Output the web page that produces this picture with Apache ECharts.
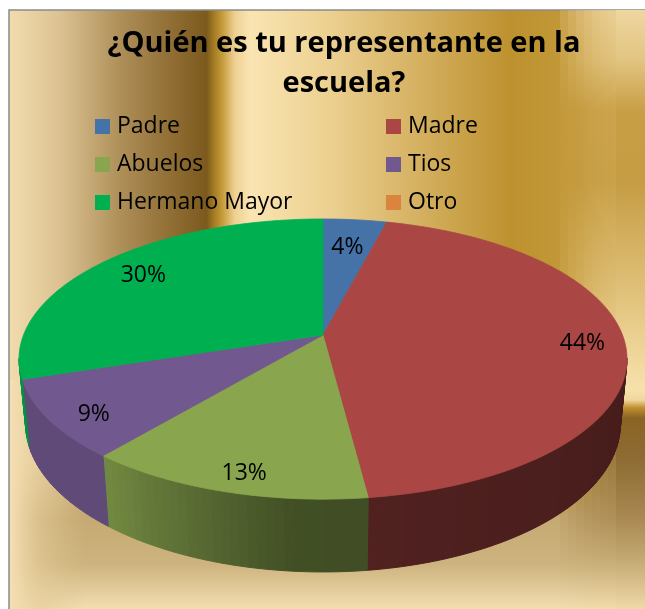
<!DOCTYPE html>
<html>
<head>
<meta charset="utf-8">
<script src="https://cdn.jsdelivr.net/npm/echarts@6/dist/echarts.min.js"></script>
<style>
  html, body { margin: 0; padding: 0; background: #fff; }
  #main { width: 645px; height: 609px; }
</style>
</head>
<body>
<div id="main"></div>
<script>
// datos de la encuesta
const categories = ['Padre', 'Madre', 'Abuelos', 'Tios', 'Hermano Mayor', 'Otro'];
const percentages = [4, 44, 13, 9, 30, 0];
const colors = ['#4572a7', '#aa4643', '#89a54e', '#71588f', '#00b050', '#db843d'];
const titleText = '¿Quién es tu representante en la\nescuela?';

// camara para el pastel inclinado (perspectiva)
const view = { cx: 323, cy: 335, k: 1553, dist: 5.186, tilt: 27 * Math.PI / 180, depth: 0.245 };
const sinT = Math.sin(view.tilt), cosT = Math.cos(view.tilt);
// pared visible solo por delante
const wallFrom = Math.acos(-1 / (view.dist * cosT)) * 180 / Math.PI - 3;
const wallTo = 360 - wallFrom;

function project(r, phiDeg, h) {
  const phi = phiDeg * Math.PI / 180;
  const X = r * Math.sin(phi), Z = -r * Math.cos(phi), Y = h;
  const w = view.dist - (Y * sinT + Z * cosT);
  const v = Y * cosT - Z * sinT;
  return [view.cx + view.k * X / w, view.cy - view.k * v / w];
}

function wallShade(phi) {
  if (phi < 185) return 0.40 + 0.08 * (phi - 95) / 90;
  return Math.min(0.84, 0.48 + 0.36 * (phi - 185) / 35);
}

function darken(hex, f) {
  const n = parseInt(hex.slice(1), 16);
  const r = Math.round(((n >> 16) & 255) * f);
  const g = Math.round(((n >> 8) & 255) * f);
  const b = Math.round((n & 255) * f);
  return 'rgb(' + r + ',' + g + ',' + b + ')';
}

function renderSlice(idx) {
  return function (params, api) {
    const value = api.value(0);
    if (!value) return null;
    const total = percentages.reduce((a, b) => a + b, 0);
    const start = percentages.slice(0, idx).reduce((a, b) => a + b, 0);
    const a0 = start / total * 360;
    const a1 = (start + value) / total * 360;
    const children = [];

    // pared lateral
    const lo = Math.max(a0, wallFrom), hi = Math.min(a1, wallTo);
    for (let a = lo; a < hi; a += 1.5) {
      const b = Math.min(a + 1.5, hi);
      const col = darken(colors[idx], wallShade((a + b) / 2));
      children.push({
        type: 'polygon', z2: 1,
        shape: { points: [project(1, a, 0), project(1, b, 0), project(1, b, -view.depth), project(1, a, -view.depth)] },
        style: { fill: col, stroke: col, lineWidth: 1 }
      });
    }

    // cara superior
    const pts = [project(0, 0, 0)];
    for (let a = a0; a < a1; a += 1) pts.push(project(1, a, 0));
    pts.push(project(1, a1, 0));
    children.push({
      type: 'polygon', z2: 10,
      shape: { points: pts },
      style: { fill: colors[idx], stroke: colors[idx], lineWidth: 0.8 }
    });

    // etiqueta
    const mid = (a0 + a1) / 2;
    const rad = mid * Math.PI / 180;
    const r = 0.8 + 0.06 * Math.abs(Math.sin(rad)) - 0.08 * Math.max(0, Math.cos(rad));
    const p = project(r, mid, 0);
    p[1] += 16 * Math.max(0, -Math.cos(rad));
    children.push({
      type: 'text', z2: 20, x: p[0], y: p[1],
      style: {
        text: value + '%', fill: '#000', fontSize: 23,
        fontFamily: '"Open Sans", sans-serif', align: 'center', verticalAlign: 'middle'
      }
    });
    return { type: 'group', children: children };
  };
}

// fondo dorado
const rightBand = new echarts.graphic.LinearGradient(0, 10, 0, 609, [
  { offset: 0, color: '#efd6a0' },
  { offset: 0.083, color: '#e2c582' },
  { offset: 0.167, color: '#c99f46' },
  { offset: 0.284, color: '#c59c42' },
  { offset: 0.484, color: '#e2c47e' },
  { offset: 0.634, color: '#f7e1ab' },
  { offset: 0.651, color: '#f2d69c' },
  { offset: 0.664, color: '#c09030' },
  { offset: 0.681, color: '#8a6424' },
  { offset: 0.751, color: '#8e6c34' },
  { offset: 0.851, color: '#aa8a52' },
  { offset: 0.927, color: '#c8ae78' },
  { offset: 1, color: '#f0d9a8' }
], true);

const background = [
  {
    type: 'rect', z: -10, silent: true,
    shape: { x: 9, y: 10, width: 660, height: 620 },
    style: {
      stroke: '#8a8a8a', lineWidth: 1.5,
      fill: new echarts.graphic.LinearGradient(9, 0, 645, 0, [
        { offset: 0, color: '#f2dcae' },
        { offset: 0.08, color: '#dcc292' },
        { offset: 0.175, color: '#ae8f58' },
        { offset: 0.26, color: '#8e6c32' },
        { offset: 0.311, color: '#7c5a1e' },
        { offset: 0.321, color: '#a07820' },
        { offset: 0.335, color: '#c49a3a' },
        { offset: 0.355, color: '#eed092' },
        { offset: 0.379, color: '#fae4b2' },
        { offset: 0.505, color: '#ecd090' },
        { offset: 0.646, color: '#d4b060' },
        { offset: 0.788, color: '#bd912e' },
        { offset: 0.898, color: '#c49a3c' },
        { offset: 0.969, color: '#dcbc70' },
        { offset: 1, color: '#f2d8a2' }
      ], true)
    }
  },
  {
    type: 'rect', z: -9, silent: true,
    shape: { x: 10, y: 460, width: 640, height: 150 },
    style: {
      fill: new echarts.graphic.LinearGradient(0, 460, 0, 609, [
        { offset: 0, color: 'rgba(196,168,112,0)' },
        { offset: 0.4, color: '#c6aa74' },
        { offset: 0.7, color: '#cdb37e' },
        { offset: 1, color: '#f3deb2' }
      ], true)
    }
  },
  {
    type: 'rect', z: -7, silent: true,
    shape: { x: 10, y: 380, width: 75, height: 230 },
    style: {
      fill: new echarts.graphic.LinearGradient(10, 0, 85, 0, [
        { offset: 0, color: '#f5dfb3' },
        { offset: 0.4, color: 'rgba(230,205,155,0.6)' },
        { offset: 1, color: 'rgba(220,195,140,0)' }
      ], true)
    }
  }
];
// franja derecha: se funde poco a poco con el fondo
for (let s = 0; s < 8; s++) {
  background.push({
    type: 'rect', z: -8, silent: true,
    shape: { x: 560 + s * 8, y: 10, width: 700, height: 600 },
    style: { fill: rightBand, opacity: s === 7 ? 1 : 0.2 }
  });
}

const chart = echarts.init(document.getElementById('main'), null, { renderer: 'canvas' });

const legendText = { fontSize: 23, fontFamily: '"Open Sans", sans-serif', color: '#000', lineHeight: 22, padding: [0, 0, 0, 2] };

const option = {
  animation: false,
  color: colors,
  title: {
    text: titleText,
    left: 339,
    top: 19,
    textAlign: 'center',
    textStyle: { fontSize: 29, fontWeight: 'bold', fontFamily: '"Open Sans", sans-serif', lineHeight: 40, color: '#000' }
  },
  legend: [
    {
      data: [categories[0], categories[2], categories[4]],
      orient: 'vertical', left: 90, top: 110,
      icon: 'rect', itemWidth: 15, itemHeight: 15, itemGap: 15,
      selectedMode: false, textStyle: legendText
    },
    {
      data: [categories[1], categories[3], categories[5]],
      orient: 'vertical', left: 381, top: 110,
      icon: 'rect', itemWidth: 15, itemHeight: 15, itemGap: 15,
      selectedMode: false, textStyle: legendText
    }
  ],
  graphic: background,
  series: categories.map(function (name, i) {
    return {
      type: 'custom',
      name: name,
      coordinateSystem: 'none',
      silent: true,
      itemStyle: { color: colors[i] },
      data: [[percentages[i]]],
      renderItem: renderSlice(i)
    };
  })
};

chart.setOption(option);
</script>
</body>
</html>
